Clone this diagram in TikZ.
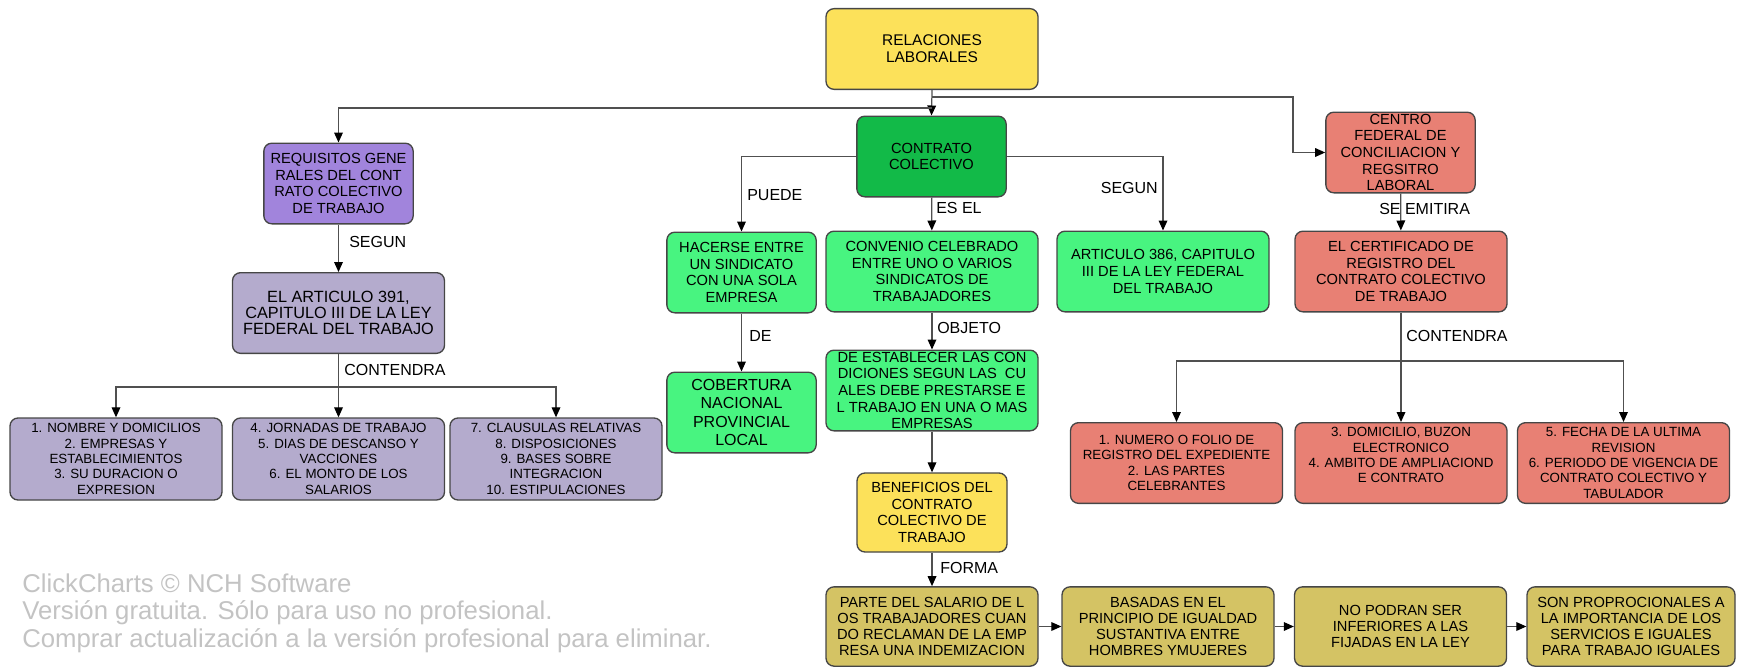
\documentclass[tikz,border=0pt]{standalone}
\usepackage{fontspec}
\setmainfont{Liberation Sans}
\usetikzlibrary{arrows}
\usetikzlibrary{arrows.meta}

\begin{document}
\begin{tikzpicture}[x=0.75pt,y=0.75pt,yscale=-1,xscale=1,
  box/.style={draw={rgb, 255:red, 70; green, 70; blue, 70 }, line width=1pt, rounded corners=6pt, align=center, inner sep=0pt, font=\fontsize{11}{12.5}\selectfont},
  wide/.style={minimum width=159pt, minimum height=60.5pt},
  narrow/.style={minimum width=112pt, minimum height=60.5pt},
  listtxt/.style={font=\fontsize{10}{11.5}\selectfont},
  conn/.style={draw={rgb, 255:red, 80; green, 80; blue, 80 }, line width=0.9pt, -{Triangle[length=7.5pt,width=6.5pt,color=black]}},
  lbl/.style={inner sep=0pt, anchor=west, font=\fontsize{12}{12}\selectfont},
  yel/.style={fill={rgb, 255:red, 252; green, 225; blue, 90 }},
  dgreen/.style={fill={rgb, 255:red, 18; green, 186; blue, 72 }},
  lgreen/.style={fill={rgb, 255:red, 72; green, 244; blue, 128 }},
  purp/.style={fill={rgb, 255:red, 161; green, 132; blue, 220 }},
  lav/.style={fill={rgb, 255:red, 180; green, 171; blue, 205 }},
  salm/.style={fill={rgb, 255:red, 232; green, 128; blue, 116 }},
  olive/.style={fill={rgb, 255:red, 212; green, 195; blue, 100 }},
]
\useasboundingbox (0,0) rectangle (1737,667);

%Shape: top
\node [box, wide, yel, font=\fontsize{11.6}{12.8}\selectfont] (rel) at (932,49) {RELACIONES\\LABORALES};
\node [box, narrow, dgreen] (con) at (931.5,156.5) {CONTRATO\\COLECTIVO};

%Shape: left branch
\node [box, narrow, purp] (req) at (338.5,183.5) {REQUISITOS GENE\\RALES DEL CONT\\RATO COLECTIVO\\DE TRABAJO};
\node [box, wide, lav, font=\fontsize{12.2}{12.2}\selectfont] (art391) at (338.5,313) {EL ARTICULO 391,\\CAPITULO III DE LA LEY\\FEDERAL DEL TRABAJO};
\node [box, wide, lav, listtxt, minimum height=61.5pt] (lst1) at (116,459) {1. NOMBRE Y DOMICILIOS\\2. EMPRESAS Y\\ESTABLECIMIENTOS\\3. SU DURACION O\\EXPRESION};
\node [box, wide, lav, listtxt, minimum height=61.5pt] (lst2) at (338.5,459) {4. JORNADAS DE TRABAJO\\5. DIAS DE DESCANSO Y\\VACCIONES\\6. EL MONTO DE LOS\\SALARIOS};
\node [box, wide, lav, listtxt, minimum height=61.5pt] (lst3) at (556,459) {7. CLAUSULAS RELATIVAS\\8. DISPOSICIONES\\9. BASES SOBRE\\INTEGRACION\\10. ESTIPULACIONES};

%Shape: middle branch
\node [box, narrow, lgreen] (hac) at (741.5,272.5) {HACERSE ENTRE\\UN SINDICATO\\CON UNA SOLA\\EMPRESA};
\node [box, narrow, lgreen, font=\fontsize{12}{13.7}\selectfont] (cob) at (741.5,412.5) {COBERTURA\\NACIONAL\\PROVINCIAL\\LOCAL};
\node [box, wide, lgreen] (conv) at (932,271.5) {CONVENIO CELEBRADO\\ENTRE UNO O VARIOS\\SINDICATOS DE\\TRABAJADORES};
\node [box, wide, lgreen, inner ysep=-2pt] (estab) at (932,390.5) {DE ESTABLECER LAS CON\\DICIONES SEGUN LAS\ \ CU\\ALES DEBE PRESTARSE E\\L TRABAJO EN UNA O MAS\\EMPRESAS};
\node [box, narrow, yel, minimum width=112.5pt, minimum height=59.25pt] (ben) at (932,512.5) {BENEFICIOS DEL\\CONTRATO\\COLECTIVO DE\\TRABAJO};
\node [box, wide, lgreen] (art386) at (1163,271.5) {ARTICULO 386, CAPITULO\\III DE LA LEY FEDERAL\\DEL TRABAJO};

%Shape: bottom row
\node [box, wide, olive, minimum height=59.5pt, font=\fontsize{11}{11.8}\selectfont] (par1) at (932,626.5) {PARTE DEL SALARIO DE L\\OS TRABAJADORES CUAN\\DO RECLAMAN DE LA EMP\\RESA UNA INDEMIZACION};
\node [box, wide, olive, minimum height=59.5pt, font=\fontsize{11}{11.8}\selectfont] (par2) at (1168,626.5) {BASADAS EN EL\\PRINCIPIO DE IGUALDAD\\SUSTANTIVA ENTRE\\HOMBRES YMUJERES};
\node [box, wide, olive, minimum height=59.5pt, font=\fontsize{11}{11.8}\selectfont] (par3) at (1400.5,626.5) {NO PODRAN SER\\INFERIORES A LAS\\FIJADAS EN LA LEY};
\node [box, wide, olive, minimum height=59.5pt, minimum width=156pt, font=\fontsize{11}{11.8}\selectfont] (par4) at (1631,626.5) {SON PROPROCIONALES A\\LA IMPORTANCIA DE LOS\\SERVICIOS E IGUALES\\PARA TRABAJO IGUALES};

%Shape: right branch
\node [box, narrow, salm, inner ysep=-2pt] (cen) at (1400.5,152.5) {CENTRO\\FEDERAL DE\\CONCILIACION Y\\REGSITRO\\LABORAL};
\node [box, wide, salm] (cert) at (1401,271.5) {EL CERTIFICADO DE\\REGISTRO DEL\\CONTRATO COLECTIVO\\DE TRABAJO};
\node [box, wide, salm, listtxt] (reg1) at (1176.5,463) {1. NUMERO O FOLIO DE\\REGISTRO DEL EXPEDIENTE\\2. LAS PARTES\\CELEBRANTES};
\node [box, wide, salm, listtxt] (reg2) at (1401,463) {3. DOMICILIO, BUZON\\ELECTRONICO\\4. AMBITO DE AMPLIACIOND\\E CONTRATO\\\mbox{}};
\node [box, wide, salm, listtxt] (reg3) at (1623.5,463) {5. FECHA DE LA ULTIMA\\REVISION\\6. PERIODO DE VIGENCIA DE\\CONTRATO COLECTIVO Y\\TABULADOR};

%Straight Lines
\draw [conn] (rel.south) -- (con.north);
\draw [conn] (rel.south |- 0,108) -| (req.north);
\draw [conn] (rel.south |- 0,97) -- (1293,97) |- (cen.west);
\draw [conn] (req) -- (art391);
\draw [conn] (art391.south) -- (lst2.north);
\draw [conn] (art391.south |- 0,387) -| (lst1.north);
\draw [conn] (art391.south |- 0,387) -| (lst3.north);
\draw [conn] (con.west) -| (hac.north);
\draw [conn] (con.east) -| (art386.north);
\draw [conn] (con) -- (conv);
\draw [conn] (hac) -- (cob);
\draw [conn] (conv) -- (estab);
\draw [conn] (estab) -- (ben);
\draw [conn] (ben) -- (par1);
\draw [conn] (par1) -- (par2);
\draw [conn] (par2) -- (par3);
\draw [conn] (par3) -- (par4);
\draw [conn] (cen) -- (cert);
\draw [conn] (cert.south) -- (reg2.north);
\draw [conn] (cert.south |- 0,361) -| (reg1.north);
\draw [conn] (cert.south |- 0,361) -| (reg3.north);

% Text Node
\node [lbl] (tpuede) at (747,195) {PUEDE};
\node [lbl] (tesel) at (936,208) {ES EL};
\node [lbl, anchor=east] (tsegun) at (1158,188) {SEGUN};
\node [lbl] (tsegunl) at (349,242) {SEGUN};
\node [lbl] (tcontl) at (344,370) {CONTENDRA};
\node [lbl] (tde) at (749,336) {DE};
\node [lbl] (tobjeto) at (937,328) {OBJETO};
\node [lbl] (tforma) at (940,568) {FORMA};
\node [lbl] (temitira) at (1379,209) {SE EMITIRA};
\node [lbl] (tcontr) at (1406,336) {CONTENDRA};

% Text Node
\node [inner sep=0pt, anchor=west, align=left, text={rgb, 255:red, 195; green, 195; blue, 195 }, font=\fontsize{19.3}{20.6}\selectfont] (wm) at (22,613) {ClickCharts © NCH Software\\Versión gratuita. Sólo para uso no profesional.\\Comprar actualización a la versión profesional para eliminar.};

\end{tikzpicture}
\end{document}
